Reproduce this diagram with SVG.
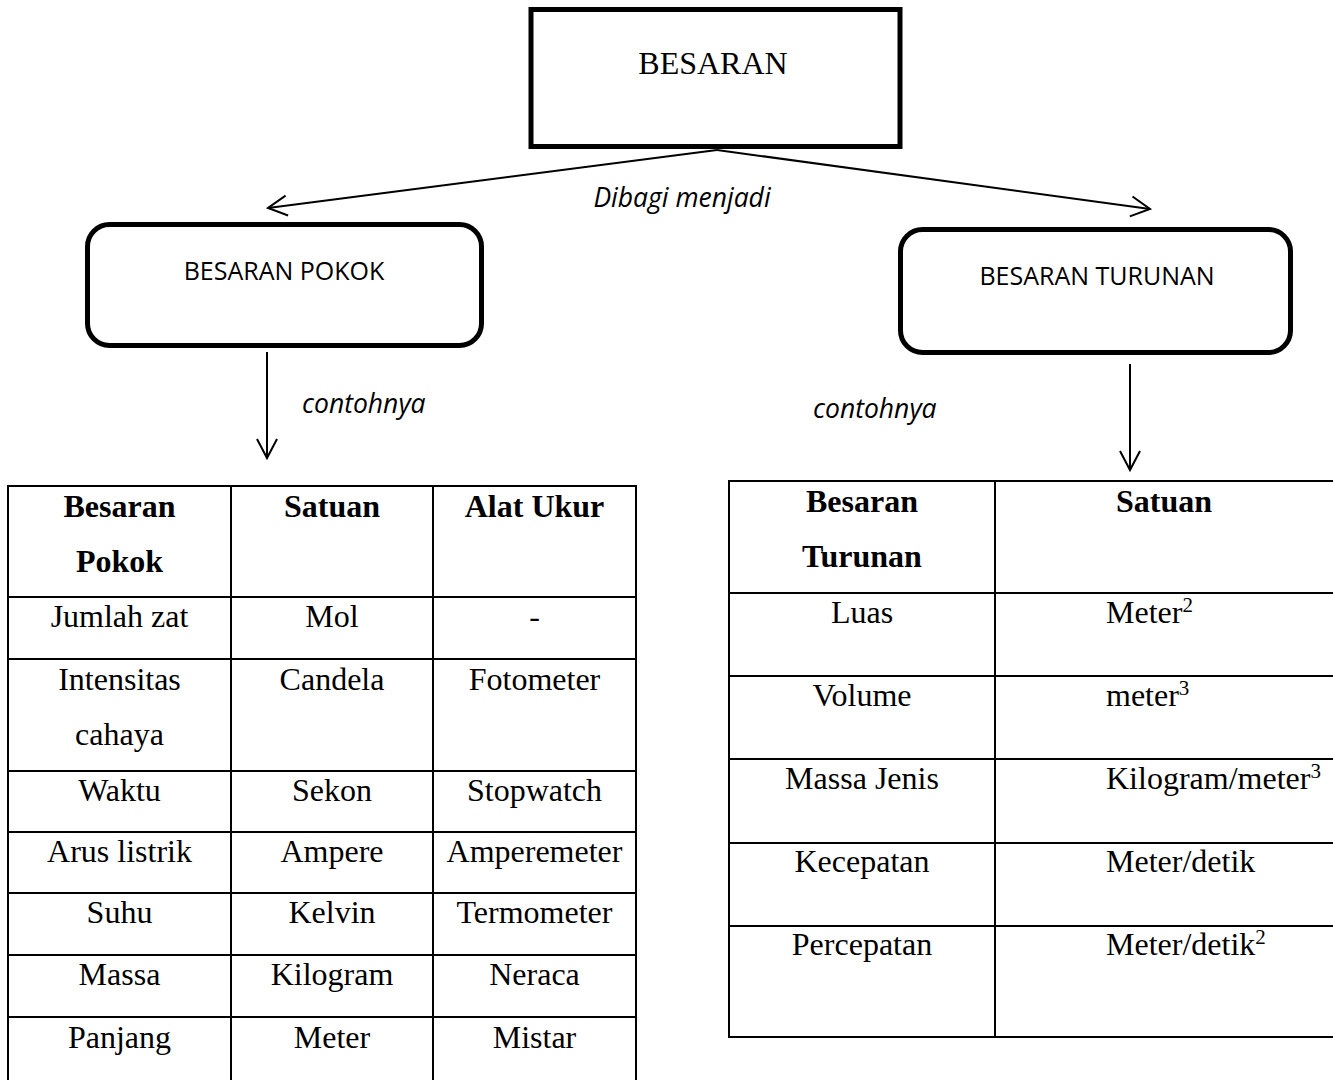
<svg xmlns="http://www.w3.org/2000/svg" width="1333" height="1080" viewBox="0 0 1333 1080">
<style>
  .serif { font-family: "Liberation Serif", "Times New Roman", serif; font-size: 32px; fill: #000; }
  .bold { font-weight: bold; }
  .sans { font-family: "Open Sans", "Liberation Sans", sans-serif; font-size: 25px; fill: #000; }
  .ital { font-style: italic; font-size: 26.5px; }
  .mid { text-anchor: middle; }
  .sup { font-size: 21px; }
  .conn { stroke: #000; stroke-width: 2; fill: none; }
  .grid { stroke: #000; stroke-width: 2; fill: none; }
  .box { stroke: #000; fill: #fff; }
</style>
<defs>
  <marker id="open" markerUnits="userSpaceOnUse" markerWidth="40" markerHeight="40" refX="0" refY="0" orient="auto" overflow="visible" viewBox="-20 -20 40 40">
    <path d="M-19,-10 L0,0 L-19,10" fill="none" stroke="#000" stroke-width="2" stroke-linejoin="miter"/>
  </marker>
</defs>
<rect width="1333" height="1080" fill="#fff"/>

<g id="node-besaran">
  <rect class="box" x="531" y="9.5" width="369" height="137" stroke-width="5"/>
  <text class="serif mid" x="713" y="74">BESARAN</text>
</g>

<g id="node-besaran-pokok">
  <rect class="box" x="87.5" y="224.5" width="394" height="121" rx="22" stroke-width="5"/>
  <text class="sans mid" x="284" y="280">BESARAN POKOK</text>
</g>

<g id="node-besaran-turunan">
  <rect class="box" x="900.5" y="229.5" width="390" height="123" rx="22" stroke-width="5"/>
  <text class="sans mid" x="1097" y="285">BESARAN TURUNAN</text>
</g>

<g id="connectors">
  <line class="conn" x1="717" y1="150" x2="268" y2="208" marker-end="url(#open)"/>
  <line class="conn" x1="717" y1="150" x2="1150" y2="209" marker-end="url(#open)"/>
  <line class="conn" x1="267" y1="352" x2="267" y2="458" marker-end="url(#open)"/>
  <line class="conn" x1="1130" y1="364" x2="1130" y2="470" marker-end="url(#open)"/>
  <text class="sans ital mid" x="682" y="207">Dibagi menjadi</text>
  <text class="sans ital" x="302" y="413">contohnya</text>
  <text class="sans ital" x="813" y="418">contohnya</text>
</g>

<g id="table-besaran-pokok">
  <g class="grid">
    <line x1="8" y1="485" x2="8" y2="1085"/>
    <line x1="231" y1="485" x2="231" y2="1085"/>
    <line x1="433" y1="485" x2="433" y2="1085"/>
    <line x1="636" y1="485" x2="636" y2="1085"/>
    <line x1="7" y1="486" x2="637" y2="486"/>
    <line x1="7" y1="597" x2="637" y2="597"/>
    <line x1="7" y1="659" x2="637" y2="659"/>
    <line x1="7" y1="771" x2="637" y2="771"/>
    <line x1="7" y1="832" x2="637" y2="832"/>
    <line x1="7" y1="893" x2="637" y2="893"/>
    <line x1="7" y1="955" x2="637" y2="955"/>
    <line x1="7" y1="1017" x2="637" y2="1017"/>
  </g>
  <text class="serif bold mid" x="119.5" y="517">Besaran</text>
  <text class="serif bold mid" x="119.5" y="572">Pokok</text>
  <text class="serif bold mid" x="332" y="517">Satuan</text>
  <text class="serif bold mid" x="534.5" y="517">Alat Ukur</text>

  <text class="serif mid" x="119.5" y="627">Jumlah zat</text>
  <text class="serif mid" x="332" y="627">Mol</text>
  <text class="serif mid" x="534.5" y="627">-</text>

  <text class="serif mid" x="119.5" y="690">Intensitas</text>
  <text class="serif mid" x="119.5" y="745">cahaya</text>
  <text class="serif mid" x="332" y="690">Candela</text>
  <text class="serif mid" x="534.5" y="690">Fotometer</text>

  <text class="serif mid" x="119.5" y="801">Waktu</text>
  <text class="serif mid" x="332" y="801">Sekon</text>
  <text class="serif mid" x="534.5" y="801">Stopwatch</text>

  <text class="serif mid" x="119.5" y="862">Arus listrik</text>
  <text class="serif mid" x="332" y="862">Ampere</text>
  <text class="serif mid" x="534.5" y="862">Amperemeter</text>

  <text class="serif mid" x="119.5" y="923">Suhu</text>
  <text class="serif mid" x="332" y="923">Kelvin</text>
  <text class="serif mid" x="534.5" y="923">Termometer</text>

  <text class="serif mid" x="119.5" y="985">Massa</text>
  <text class="serif mid" x="332" y="985">Kilogram</text>
  <text class="serif mid" x="534.5" y="985">Neraca</text>

  <text class="serif mid" x="119.5" y="1048">Panjang</text>
  <text class="serif mid" x="332" y="1048">Meter</text>
  <text class="serif mid" x="534.5" y="1048">Mistar</text>
</g>

<g id="table-besaran-turunan">
  <g class="grid">
    <line x1="729" y1="480" x2="729" y2="1038"/>
    <line x1="995" y1="480" x2="995" y2="1038"/>
    <line x1="728" y1="481" x2="1333" y2="481"/>
    <line x1="728" y1="593" x2="1333" y2="593"/>
    <line x1="728" y1="676" x2="1333" y2="676"/>
    <line x1="728" y1="759" x2="1333" y2="759"/>
    <line x1="728" y1="843" x2="1333" y2="843"/>
    <line x1="728" y1="926" x2="1333" y2="926"/>
    <line x1="728" y1="1037" x2="1333" y2="1037"/>
  </g>
  <text class="serif bold mid" x="862" y="512">Besaran</text>
  <text class="serif bold mid" x="862" y="567">Turunan</text>
  <text class="serif bold mid" x="1164" y="512">Satuan</text>

  <text class="serif mid" x="862" y="623">Luas</text>
  <text class="serif" x="1106" y="623">Meter<tspan class="sup" dy="-11">2</tspan></text>

  <text class="serif mid" x="862" y="706">Volume</text>
  <text class="serif" x="1106" y="706">meter<tspan class="sup" dy="-11">3</tspan></text>

  <text class="serif mid" x="862" y="789">Massa Jenis</text>
  <text class="serif" x="1106" y="789">Kilogram/meter<tspan class="sup" dy="-11">3</tspan></text>

  <text class="serif mid" x="862" y="872">Kecepatan</text>
  <text class="serif" x="1106" y="872">Meter/detik</text>

  <text class="serif mid" x="862" y="955">Percepatan</text>
  <text class="serif" x="1106" y="955">Meter/detik<tspan class="sup" dy="-11">2</tspan></text>
</g>
</svg>
